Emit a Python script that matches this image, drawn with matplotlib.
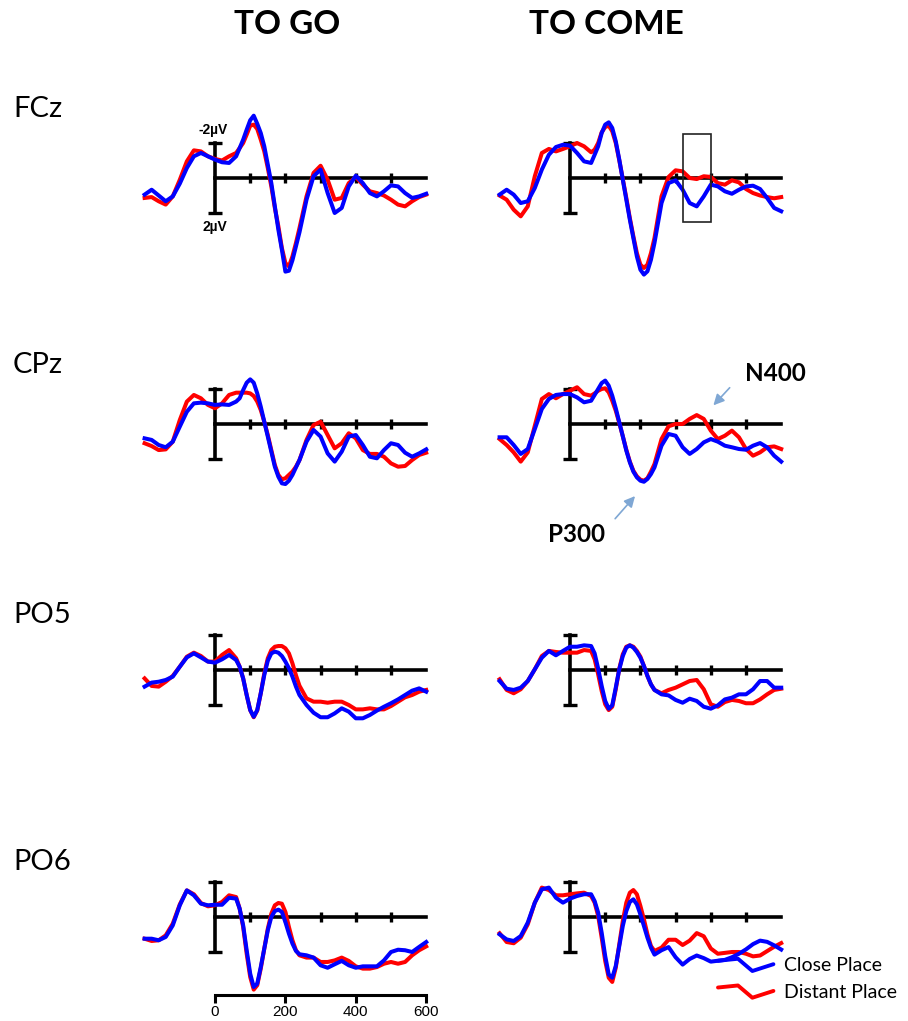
import numpy as np
import matplotlib
matplotlib.use("Agg")  # no display
import matplotlib.pyplot as plt
from matplotlib.legend_handler import HandlerLine2D
from matplotlib.lines import Line2D
from matplotlib.patches import Rectangle

# sample times (ms): 20 ms steps, 10 ms steps around the sharp early components
times = np.concatenate([np.arange(-200, 60, 20), np.arange(60, 240, 10), np.arange(240, 601, 20)])

electrodes = ["FCz", "CPz", "PO5", "PO6"]
conditions = ["TO GO", "TO COME"]
legend_labels = ["Close Place", "Distant Place"]

# amplitudes in microvolts (plotted negative up)
fcz_go_close = [0.95, 0.67, 1.0, 1.33, 1.05, 0.32, -0.57, -1.24, -1.43, -1.24, -1.05, -0.9, -0.86,
                -1.24, -1.71, -2.19, -2.76, -3.3, -3.56, -3.1, -2.57, -1.81, -0.76, 0.29, 1.62, 2.95, 4.1, 5.35, 5.3, 4.7, 3.9,
                3.1, 1.24, -0.1, -0.48, 0.86, 2.0, 1.71, 0.48, -0.13, 0.29, 0.86, 1.05, 0.76, 0.42, 0.48, 0.86, 1.14, 1.05, 0.9]
fcz_go_distant = [1.14, 1.09, 1.33, 1.52, 1.05, 0.1, -0.95, -1.58, -1.52, -1.24, -1.09, -1.0, -1.24,
                  -1.43, -1.71, -2.0, -2.48, -2.99, -3.05, -2.8, -2.19, -1.52, -0.57, 0.48, 1.71, 2.76, 4.0, 4.86, 5.05, 4.48, 3.71,
                  2.86, 1.05, -0.29, -0.7, 0.1, 1.24, 1.14, 0.29, -0.06, 0.38, 0.76, 0.86, 1.0, 1.24, 1.52, 1.62, 1.33, 1.09, 0.95]
fcz_come_close = [0.95, 0.67, 0.95, 1.43, 1.33, 0.57, -0.48, -1.33, -1.77, -1.9, -1.85, -1.43, -0.95,
                  -0.86, -1.33, -1.81, -2.57, -3.05, -3.18, -2.86, -2.1, -1.05, 0.1, 1.24, 2.38, 3.43, 4.48, 5.24, 5.52, 5.33, 4.67,
                  3.71, 1.43, 0.29, 0.13, 0.67, 1.43, 1.62, 1.05, 0.38, 0.48, 0.76, 0.9, 0.67, 0.48, 0.44, 0.63, 1.14, 1.71, 1.9]
fcz_come_distant = [1.0, 1.24, 1.81, 2.19, 1.62, -0.1, -1.43, -1.66, -1.52, -1.66, -1.81, -2.0, -1.81,
                    -1.47, -1.62, -2.0, -2.61, -2.91, -2.99, -2.67, -2.0, -1.01, 0.06, 1.14, 2.29, 3.33, 4.29, 4.95, 5.14, 4.95, 4.29,
                    3.43, 1.05, -0.06, -0.44, -0.38, 0.0, 0.06, -0.1, -0.06, 0.29, 0.38, 0.13, 0.25, 0.63, 0.86, 1.0, 1.09, 1.16, 1.09]

cpz_go_close = [0.82, 0.91, 1.2, 1.33, 1.01, 0.15, -0.7, -1.18, -1.22, -1.18, -1.09, -1.12, -1.09,
                -1.28, -1.47, -1.94, -2.36, -2.55, -2.36, -1.75, -0.99, -0.13, 0.72, 1.58, 2.44, 3.01, 3.39, 3.43, 3.24, 2.91, 2.48,
                2.06, 1.01, 0.34, 0.72, 1.68, 2.15, 1.58, 0.72, 0.63, 1.2, 1.87, 1.96, 1.49, 1.1, 1.2, 1.64, 1.87, 1.68, 1.45]
cpz_go_distant = [1.1, 1.26, 1.49, 1.45, 1.01, -0.23, -1.28, -1.66, -1.47, -1.09, -0.9, -1.18, -1.66,
                  -1.79, -1.79, -1.79, -1.79, -1.75, -1.6, -1.28, -0.8, -0.13, 0.63, 1.49, 2.34, 2.91, 3.16, 3.1, 2.91, 2.72, 2.44,
                  2.06, 0.91, 0.06, -0.13, 0.63, 1.39, 1.1, 0.53, 0.82, 1.49, 1.71, 1.71, 1.87, 2.25, 2.44, 2.4, 2.06, 1.77, 1.64]
cpz_come_close = [0.76, 0.76, 1.2, 1.71, 1.43, 0.29, -0.86, -1.43, -1.66, -1.71, -1.71, -1.52, -1.24,
                  -1.33, -1.66, -2.0, -2.34, -2.48, -2.19, -1.62, -0.9, -0.1, 0.7, 1.52, 2.19, 2.72, 3.05, 3.24, 3.3, 3.14, 2.86,
                  2.48, 1.24, 0.57, 0.67, 1.33, 1.71, 1.43, 1.05, 0.86, 1.01, 1.24, 1.33, 1.43, 1.47, 1.24, 1.09, 1.33, 1.81, 2.15]
cpz_come_distant = [0.86, 1.2, 1.62, 2.15, 1.62, 0.1, -1.43, -1.71, -1.47, -1.71, -1.9, -2.1, -1.71,
                    -1.62, -1.75, -1.9, -2.0, -2.04, -1.81, -1.33, -0.76, -0.06, 0.7, 1.47, 2.15, 2.67, 2.99, 3.18, 3.24, 3.1, 2.72,
                    2.29, 0.86, 0.13, 0.0, 0.0, -0.29, -0.51, -0.29, 0.38, 0.86, 0.67, 0.38, 0.76, 1.43, 1.81, 1.62, 1.33, 1.28, 1.43]

po5_go_close = [0.95, 0.72, 0.67, 0.57, 0.38, -0.19, -0.72, -0.95, -0.72, -0.48, -0.42, -0.61, -0.86,
                -0.57, -0.19, 0.48, 1.43, 2.29, 2.67, 2.29, 1.33, 0.29, -0.53, -0.95, -1.05, -0.99, -0.8, -0.48, -0.1, 0.38, 0.95,
                1.43, 2.0, 2.44, 2.7, 2.7, 2.48, 2.19, 2.38, 2.76, 2.76, 2.57, 2.32, 2.1, 1.9, 1.68, 1.43, 1.18, 1.05, 1.24]
po5_go_distant = [0.48, 0.91, 0.95, 0.67, 0.34, -0.19, -0.76, -0.99, -0.8, -0.48, -0.48, -0.86, -1.14,
                  -0.67, -0.19, 0.48, 1.43, 2.29, 2.7, 2.32, 1.33, 0.19, -0.67, -1.14, -1.33, -1.37, -1.37, -1.24, -0.95, -0.38, 0.3,
                  0.9, 1.62, 1.81, 1.81, 1.87, 1.81, 1.81, 2.0, 2.25, 2.25, 2.19, 2.25, 2.25, 2.06, 1.81, 1.56, 1.43, 1.24, 1.14]
po5_come_close = [0.63, 1.07, 1.14, 1.01, 0.63, -0.04, -0.7, -1.09, -0.84, -1.09, -1.33, -1.33, -1.41,
                  -1.37, -0.95, -0.08, 0.91, 1.77, 2.21, 2.02, 1.01, -0.04, -0.8, -1.28, -1.41, -1.28, -1.03, -0.7, -0.23, 0.34, 0.82,
                  1.14, 1.39, 1.45, 1.71, 1.87, 1.64, 1.77, 2.1, 2.21, 2.02, 1.68, 1.58, 1.39, 1.39, 1.1, 0.63, 0.63, 1.01, 1.01]
po5_come_distant = [0.53, 1.14, 1.33, 1.1, 0.63, -0.04, -0.8, -1.09, -1.03, -0.99, -0.99, -0.99, -1.14,
                    -1.09, -0.61, 0.25, 1.2, 1.96, 2.29, 2.1, 1.1, -0.08, -0.9, -1.33, -1.41, -1.33, -1.09, -0.76, -0.23, 0.34, 0.82,
                    1.14, 1.33, 1.14, 1.01, 0.82, 0.63, 0.57, 1.1, 1.96, 2.1, 1.83, 1.71, 1.77, 1.9, 1.9, 1.68, 1.39, 1.14, 1.07]

po6_go_close = [1.24, 1.24, 1.33, 1.14, 0.48, -0.67, -1.52, -1.24, -0.76, -0.67, -0.7, -0.7, -1.1,
                -1.05, -0.48, 0.48, 1.9, 3.24, 4.0, 3.81, 2.86, 1.81, 0.76, 0.0, -0.34, -0.42, -0.29, 0.29, 0.95, 1.52, 1.94,
                2.13, 2.19, 2.32, 2.76, 2.9, 2.7, 2.51, 2.76, 2.9, 2.82, 2.82, 2.82, 2.48, 2.0, 1.87, 1.9, 2.0, 1.71, 1.43]
po6_go_distant = [1.24, 1.37, 1.33, 1.05, 0.38, -0.72, -1.52, -1.3, -0.8, -0.61, -0.67, -0.86, -1.24,
                  -1.14, -0.48, 0.57, 2.1, 3.43, 4.15, 3.9, 2.95, 1.81, 0.67, -0.19, -0.67, -0.8, -0.76, -0.29, 0.57, 1.33, 1.9,
                  2.19, 2.32, 2.32, 2.57, 2.57, 2.48, 2.32, 2.51, 2.82, 2.95, 2.95, 2.86, 2.67, 2.57, 2.67, 2.57, 2.19, 1.9, 1.68]
po6_come_close = [0.99, 1.28, 1.37, 1.09, 0.32, -0.82, -1.58, -1.68, -1.1, -0.82, -1.05, -1.2, -1.3,
                  -1.3, -0.91, -0.25, 0.9, 2.23, 3.28, 3.47, 2.8, 1.66, 0.51, -0.34, -0.86, -1.01, -0.72, -0.15, 0.51, 1.18, 1.75,
                  2.15, 1.9, 1.72, 2.3, 2.72, 2.4, 2.2, 2.35, 2.55, 2.5, 2.45, 2.3, 2.1, 1.85, 1.55, 1.35, 1.42, 1.62, 1.86]
po6_come_distant = [0.93, 1.43, 1.5, 1.18, 0.42, -0.82, -1.68, -1.54, -1.24, -1.24, -1.3, -1.35, -1.39,
                    -1.2, -0.82, -0.06, 1.18, 2.51, 3.47, 3.71, 2.9, 1.56, 0.23, -0.82, -1.39, -1.54, -1.3, -0.63, 0.13, 0.99, 1.66,
                    1.94, 1.75, 1.3, 1.3, 1.6, 1.35, 0.92, 1.1, 1.8, 2.1, 2.05, 2.0, 2.0, 2.1, 2.25, 2.2, 1.95, 1.7, 1.49]

waves = {
    ("FCz", "TO GO"): (fcz_go_close, fcz_go_distant),
    ("FCz", "TO COME"): (fcz_come_close, fcz_come_distant),
    ("CPz", "TO GO"): (cpz_go_close, cpz_go_distant),
    ("CPz", "TO COME"): (cpz_come_close, cpz_come_distant),
    ("PO5", "TO GO"): (po5_go_close, po5_go_distant),
    ("PO5", "TO COME"): (po5_come_close, po5_come_distant),
    ("PO6", "TO GO"): (po6_go_close, po6_go_distant),
    ("PO6", "TO COME"): (po6_come_close, po6_come_distant),
}

BLUE = "#0000ff"
RED = "#ff0000"
W, H = 908, 1021
PX_MS, PX_UV = 0.352, 17.5            # pixels per ms / per microvolt
T_MIN, T_MAX = -210, 610
V_TOP, V_BOT = -4.5, 5.8
col_zero_x = [215, 570]               # pixel x of t = 0
row_zero_y = [178, 424, 670, 917]     # pixel y of 0 uV
label_y = [109, 365, 615, 862]

fig = plt.figure(figsize=(W / 100, H / 100), dpi=100)
fig.patch.set_facecolor("white")


def add_panel(col, row):
    left = col_zero_x[col] + T_MIN * PX_MS
    width = (T_MAX - T_MIN) * PX_MS
    top = row_zero_y[row] + V_TOP * PX_UV
    height = (V_BOT - V_TOP) * PX_UV
    ax = fig.add_axes([left / W, 1 - (top + height) / H, width / W, height / H])
    ax.set_xlim(T_MIN, T_MAX)
    ax.set_ylim(V_BOT, V_TOP)  # negative up
    ax.patch.set_alpha(0)
    for s in ["top", "right"]:
        ax.spines[s].set_visible(False)
    ax.spines["bottom"].set_position(("data", 0))
    ax.spines["bottom"].set_bounds(0, 600)
    ax.spines["left"].set_position(("data", 0))
    ax.spines["left"].set_bounds(-2, 2)
    for s in ["bottom", "left"]:
        ax.spines[s].set_linewidth(2.6)
        ax.spines[s].set_zorder(1)
    ax.set_xticks([100, 200, 300, 400, 500])
    ax.set_yticks([-2, 2])
    ax.tick_params(axis="x", direction="inout", length=7, width=2.4, labelbottom=False)
    ax.tick_params(axis="y", direction="inout", length=10, width=2.4, labelleft=False)
    return ax


class WavyHandler(HandlerLine2D):
    def create_artists(self, legend, orig_handle, xdescent, ydescent, width, height, fontsize, trans):
        xs = -xdescent + width * np.array([0, 0.36, 0.62, 1.0])
        ys = -ydescent + height / 2 + height * np.array([0.25, 0.4, -0.5, 0.0])
        line = Line2D(xs, ys, color=orig_handle.get_color(), lw=orig_handle.get_linewidth(),
                      solid_joinstyle="round", solid_capstyle="round")
        line.set_transform(trans)
        return [line]


for row, elec in enumerate(electrodes):
    for col, cond in enumerate(conditions):
        ax = add_panel(col, row)
        close, distant = waves[(elec, cond)]
        ax.plot(times, distant, color=RED, lw=2.9, solid_joinstyle="round", zorder=3)
        ax.plot(times, close, color=BLUE, lw=2.9, solid_joinstyle="round", zorder=3)

        if elec == "FCz" and cond == "TO GO":
            ax.text(-5, -2.75, "-2µV", ha="center", va="center", fontsize=10,
                    fontweight="bold", family="Liberation Sans")
            ax.text(0, 2.8, "2µV", ha="center", va="center", fontsize=10,
                    fontweight="bold", family="Liberation Sans")
        if elec == "FCz" and cond == "TO COME":
            ax.add_patch(Rectangle((320, -2.5), 80, 5, fill=False, ec="#222222", lw=1.2, zorder=4))
        if elec == "CPz" and cond == "TO COME":
            arrow = dict(arrowstyle="-|>", color="#7fa7d4", lw=1.2, mutation_scale=16)
            ax.annotate("", xy=(402, -0.95), xytext=(459, -2.19), arrowprops=arrow)
            ax.annotate("", xy=(190, 4.0), xytext=(123, 5.53), arrowprops=arrow)
            ax.text(496, -2.9, "N400", ha="left", va="center", fontsize=17.5, fontweight="bold", family="Lato")
            ax.text(100, 6.3, "P300", ha="right", va="center", fontsize=17.5, fontweight="bold",
                    family="Lato", clip_on=False)
        if elec == "PO6" and cond == "TO GO":
            sec = ax.secondary_xaxis(4.45, transform=ax.transData)
            sec.set_alignment("bottom")
            sec.spines["bottom"].set_bounds(0, 600)
            sec.spines["bottom"].set_linewidth(2.2)
            sec.set_xticks([0, 200, 400, 600])
            sec.tick_params(direction="out", length=6, width=2.2, labelsize=11, pad=1)
            for lab in sec.get_xticklabels():
                lab.set_family("Liberation Sans")
        if elec == "PO6" and cond == "TO COME":
            handles = [Line2D([], [], color=BLUE, lw=2.8), Line2D([], [], color=RED, lw=2.8)]
            fig.legend(handles, legend_labels, loc="upper left",
                       bbox_to_anchor=(718 / W, 1 - 957 / H), frameon=False,
                       prop={"family": "Lato", "size": 14}, handlelength=2.85,
                       handletextpad=0.55, labelspacing=0.5, borderpad=0, borderaxespad=0,
                       handler_map={Line2D: WavyHandler()})

    fig.text(13 / W, 1 - label_y[row] / H, elec, ha="left", va="center", fontsize=21, family="Lato")

for col, cond in enumerate(conditions):
    fig.text([287, 606][col] / W, 1 - 25 / H, cond, ha="center", va="center",
             fontsize=24, fontweight="bold", family="Lato")

fig.savefig("out.png", dpi=100)
plt.close(fig)
